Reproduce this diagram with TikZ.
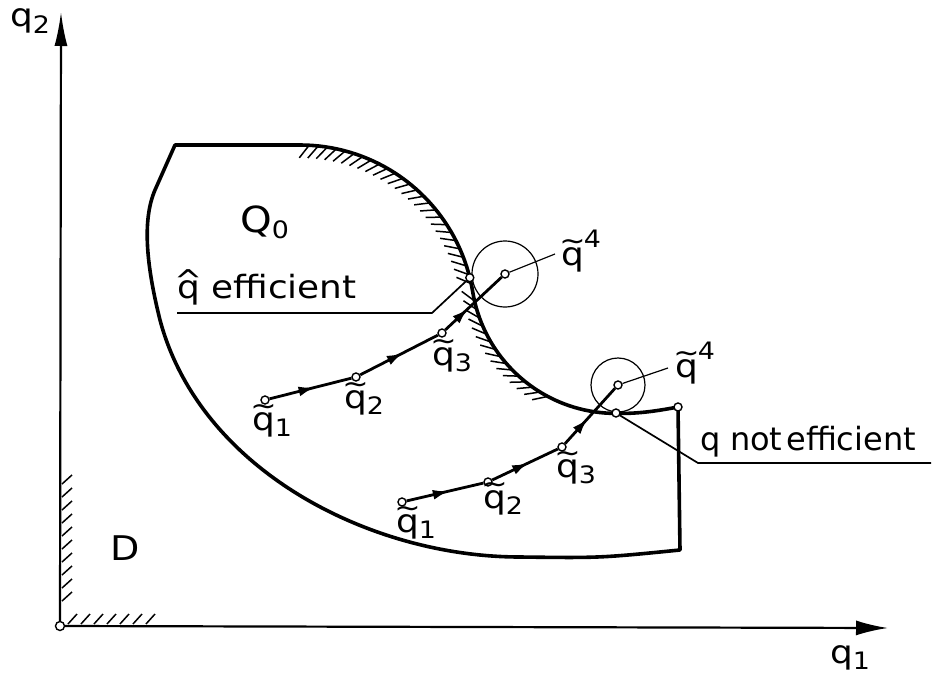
\documentclass[tikz,border=0pt]{standalone}
\usepackage{fontspec}
\setmainfont{DejaVu Sans}
\newfontfamily\labfont[FakeStretch=1.12]{DejaVu Sans}
\newfontfamily\plainlab{DejaVu Sans}
\usetikzlibrary{arrows.meta,decorations.markings}
\newcommand\qtil{\ooalign{q\cr\hidewidth\raisebox{15pt}{\fontsize{28}{28}\selectfont\char"7E}\hidewidth\cr}}
\newcommand\qhatl{\ooalign{q\cr\hidewidth\raisebox{7pt}{\fontsize{30}{30}\selectfont\char"5E}\hidewidth\cr}}
\newcommand\sbs[1]{\raisebox{-0.35ex}{\fontsize{24}{24}\selectfont #1}}
\newcommand\sps[1]{\raisebox{1.0ex}{\fontsize{24}{24}\selectfont #1}}
\tikzset{
  outline/.style={line width=3.6pt, line join=round},
  traj/.style={line width=2.8pt},
  thinline/.style={line width=1.2pt},
  leader/.style={line width=1.7pt},
  axisline/.style={line width=2.2pt},
  hatchline/.style={line width=1.5pt},
  pt/.style={circle, draw, fill=white, line width=1.4pt, inner sep=0pt, minimum size=8pt},
  lab/.style={inner sep=0pt, anchor=base west, font=\labfont\fontsize{32}{36}\selectfont},
  midarrow/.style={postaction={decorate}, decoration={markings, mark=at position #1 with {\arrow{Latex[length=16pt,width=10pt]}}}}
}
\begin{document}
\begin{tikzpicture}[x=1pt,y=-1pt]
\fill[white] (0,0) rectangle (935,677);
\useasboundingbox (0,0) rectangle (935,677);

% hatching along the efficient frontier
\foreach \t in {-87,-84,...,-12}
  \draw[hatchline] ({300+175*cos(\t)},{320+175*sin(\t)}) -- ++({16*cos(\t+215)},{16*sin(\t+215)});
\foreach \t in {167,163.5,...,118}
  \draw[hatchline] ({615.8+145*cos(\t)},{268.4+145*sin(\t)}) -- ++({16*cos(\t+50)},{16*sin(\t+50)});
% hatching along the axes
\foreach \y in {484,497,...,612}
  \draw[hatchline] (62,\y) -- ++(10,-9);
\foreach \x in {68,81,...,150}
  \draw[hatchline] (\x,624) -- ++(9,-10);

% region Q0
\draw[outline] (175,145) -- (300,145)
  -- plot[domain=0:1, samples=40] ({300+175*cos(-90+80.71*\x)},{320+175*sin(-90+80.71*\x)})
  -- plot[domain=0:1, samples=40] ({615.8+145*cos(170.71-80.71*\x)},{268.4+145*sin(170.71-80.71*\x)})
  .. controls (640,414) and (662,410) .. (678,407)
  -- (680,550)
  .. controls (600,558) .. (520,557)
  .. controls (370,557) and (200,470) .. (160,320)
  .. controls (145,260) and (143,218) .. (155,190)
  -- cycle;

% axes
\node[pt, minimum size=9pt] (O) at (60,626) {};
\coordinate (ytip) at (61,12);
\coordinate (xtip) at (888,628);
\draw[axisline, -{Latex[length=34pt,width=13pt]}] (O) -- (ytip);
\draw[axisline, -{Latex[length=32pt,width=15pt]}] (O) -- (xtip);

% neighbourhood circles
\node[circle, draw, thinline, minimum size=66pt, inner sep=0pt] (C1) at (505,274) {};
\node[circle, draw, thinline, minimum size=54pt, inner sep=0pt] (C2) at (618,385) {};

% points
\node[pt] (u1) at (265,400) {};
\node[pt] (u2) at (356,377) {};
\node[pt] (u3) at (442,333) {};
\node[pt] (c1) at (505,274) {};
\node[pt] (v1) at (402,502) {};
\node[pt] (v2) at (488,482) {};
\node[pt] (v3) at (562,447) {};
\node[pt] (c2) at (618,385) {};
\node[pt] (qh) at (469.8,277.7) {};
\node[pt] (qn) at (616,413) {};
\node[pt] (rc) at (678,407) {};

% trajectories
\draw[traj, midarrow=0.55] (u1) -- (u2);
\draw[traj, midarrow=0.55] (u2) -- (u3);
\draw[traj, midarrow=0.4] (u3) -- (c1);
\draw[traj, midarrow=0.55] (v1) -- (v2);
\draw[traj, midarrow=0.55] (v2) -- (v3);
\draw[traj, midarrow=0.45] (v3) -- (c2);

% leaders
\coordinate (l1a) at (555,254);
\coordinate (l2a) at (668,368);
\draw[thinline] (c1) -- (l1a);
\draw[thinline] (c2) -- (l2a);
\coordinate (e1) at (432,313);
\coordinate (e2) at (177,313);
\draw[leader] (qh) -- (e1) -- (e2);
\coordinate (n1) at (698,463);
\coordinate (n2) at (931,463);
\draw[leader] (qn) -- (n1) -- (n2);

% labels
\node[lab] (lq2) at (10,27) {q\sbs{2}};
\node[lab] (lq1) at (830,663) {q\sbs{1}};
\node[lab, font=\labfont\fontsize{36}{40}\selectfont] (lQ0) at (240,232) {Q\sbs{0}};
\node[lab, font=\labfont\fontsize{34}{40}\selectfont] (lD) at (110,560) {D};
\node[lab] (leff) at (177,298) {\qhatl\ efficient};
\node[lab, font=\plainlab\fontsize{32}{36}\selectfont] (lneff) at (700,450) {q\hspace{0.3em}not\hspace{0.12em}efficient};
\node[lab] (lu1) at (252,430) {\qtil\sbs{1}};
\node[lab] (lu2) at (344,408) {\qtil\sbs{2}};
\node[lab] (lu3) at (432,365) {\qtil\sbs{3}};
\node[lab] (lv1) at (396,532) {\qtil\sbs{1}};
\node[lab] (lv2) at (483,508) {\qtil\sbs{2}};
\node[lab] (lv3) at (556,477) {\qtil\sbs{3}};
\node[lab] (lc1) at (561,265) {\qtil\sps{4}};
\node[lab] (lc2) at (675,377) {\qtil\sps{4}};
\end{tikzpicture}
\end{document}
